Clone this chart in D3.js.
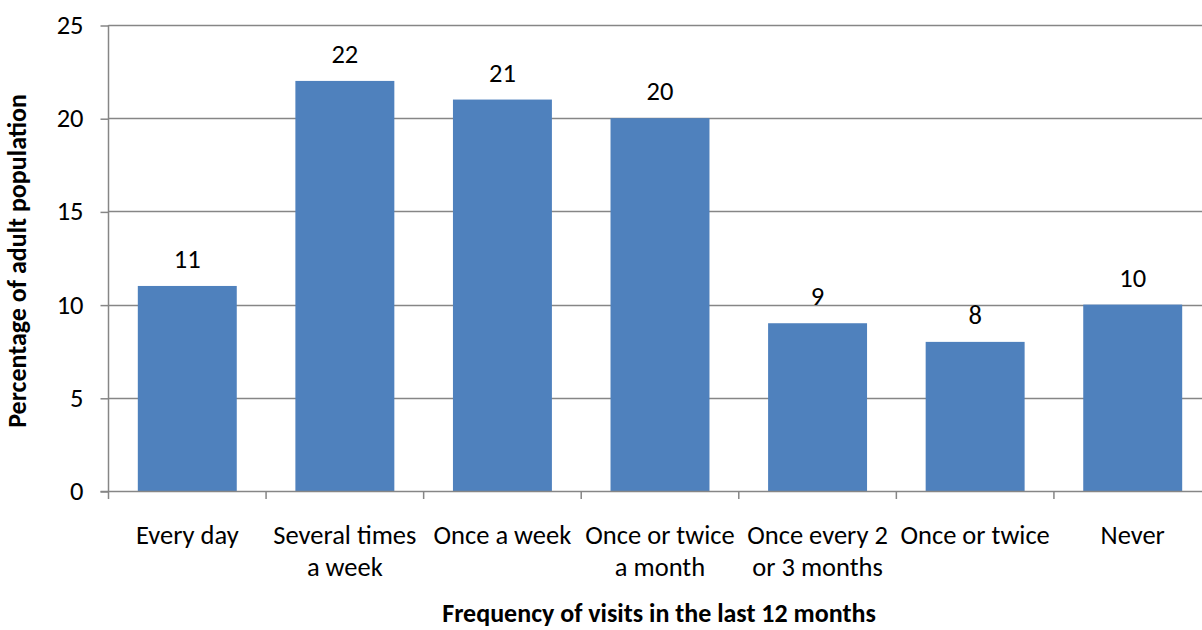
<!DOCTYPE html>
<html>
<head>
<meta charset="utf-8">
<script src="https://cdn.jsdelivr.net/npm/d3@7"></script>
<style>
  html, body { margin: 0; padding: 0; background: #fff; }
  svg { display: block; }
  text { font-family: Carlito, Calibri, Lato, sans-serif; fill: #000; }
</style>
</head>
<body>
<svg id="chart" width="1202" height="630"></svg>
<script>
// Visit frequency categories (each entry is a list of label lines)
const categories = [
  ["Every day"],
  ["Several times", "a week"],
  ["Once a week"],
  ["Once or twice", "a month"],
  ["Once every 2", "or 3 months"],
  ["Once or twice"],
  ["Never"]
];
// Percentage of adult population for each category
const values = [11, 22, 21, 20, 9, 8, 10];
// Y axis ticks
const yTicks = [0, 5, 10, 15, 20, 25];

const yTitle = "Percentage of adult population";
const xTitle = "Frequency of visits in the last 12 months";

const svg = d3.select("#chart");
const plot = { left: 108.5, right: 1211.5, top: 25, bottom: 491 };
const labelSize = "26.5px";
const titleSize = "26px";

const keys = categories.map((c, i) => i);
const x = d3.scaleBand()
  .domain(keys)
  .range([plot.left, plot.right])
  .paddingInner(0.372)
  .paddingOuter(0.186);

const y = d3.scaleLinear()
  .domain([0, 25])
  .range([plot.bottom, plot.top]);

const gridColor = "#868686";

// horizontal gridlines
svg.append("g")
  .selectAll("line")
  .data(yTicks.filter(t => t > 0))
  .join("line")
  .attr("x1", plot.left)
  .attr("x2", plot.right)
  .attr("y1", d => Math.round(y(d)) + 0.5)
  .attr("y2", d => Math.round(y(d)) + 0.5)
  .attr("stroke", gridColor)
  .attr("stroke-width", 1.5);

// bars
svg.append("g")
  .selectAll("rect")
  .data(values)
  .join("rect")
  .attr("x", (d, i) => x(i))
  .attr("width", x.bandwidth())
  .attr("y", d => y(d))
  .attr("height", d => y(0) - y(d))
  .attr("fill", "#4F81BD");

// y axis
const yAxis = svg.append("g")
  .attr("transform", `translate(${plot.left},0)`)
  .call(d3.axisLeft(y).tickValues(yTicks).tickSize(8).tickPadding(17));
yAxis.select(".domain").attr("stroke", gridColor).attr("stroke-width", 1.5)
  .attr("d", `M0,${plot.top}V${plot.bottom}`);
yAxis.selectAll(".tick line").attr("stroke", gridColor).attr("stroke-width", 1.5)
  .attr("transform", "translate(0,0.5)");
yAxis.selectAll(".tick text")
  .style("font-size", labelSize)
  .style("font-family", "Carlito, Calibri, Lato, sans-serif")
  .attr("fill", "#000");

// x axis baseline with boundary ticks between categories
const xAxisG = svg.append("g");
xAxisG.append("line")
  .attr("x1", plot.left - 8).attr("x2", plot.right)
  .attr("y1", plot.bottom + 0.5).attr("y2", plot.bottom + 0.5)
  .attr("stroke", gridColor).attr("stroke-width", 1.5);
const step = x.step();
const boundaries = d3.range(categories.length + 1).map(i => plot.left + i * step);
xAxisG.selectAll("line.tick")
  .data(boundaries)
  .join("line")
  .attr("class", "tick")
  .attr("x1", d => d).attr("x2", d => d)
  .attr("y1", plot.bottom).attr("y2", plot.bottom + 8)
  .attr("stroke", gridColor).attr("stroke-width", 1.5);

// category labels
const catG = svg.append("g");
categories.forEach((lines, i) => {
  const t = catG.append("text")
    .attr("x", x(i) + x.bandwidth() / 2)
    .attr("y", 544)
    .attr("text-anchor", "middle")
    .style("font-size", labelSize);
  lines.forEach((ln, j) => {
    t.append("tspan")
      .attr("x", x(i) + x.bandwidth() / 2)
      .attr("dy", j === 0 ? 0 : 32)
      .text(ln);
  });
});

// value labels
svg.append("g")
  .selectAll("text")
  .data(values)
  .join("text")
  .attr("x", (d, i) => x(i) + x.bandwidth() / 2)
  .attr("y", d => y(d) - 18)
  .attr("text-anchor", "middle")
  .style("font-size", labelSize)
  .text(d => d);

// axis titles
svg.append("text")
  .attr("transform", `translate(26,${(plot.top + plot.bottom) / 2 + 3}) rotate(-90)`)
  .attr("text-anchor", "middle")
  .style("font-size", titleSize)
  .style("font-weight", "bold")
  .text(yTitle);

svg.append("text")
  .attr("x", 659)
  .attr("y", 622)
  .attr("text-anchor", "middle")
  .style("font-size", titleSize)
  .style("font-weight", "bold")
  .text(xTitle);
</script>
</body>
</html>
